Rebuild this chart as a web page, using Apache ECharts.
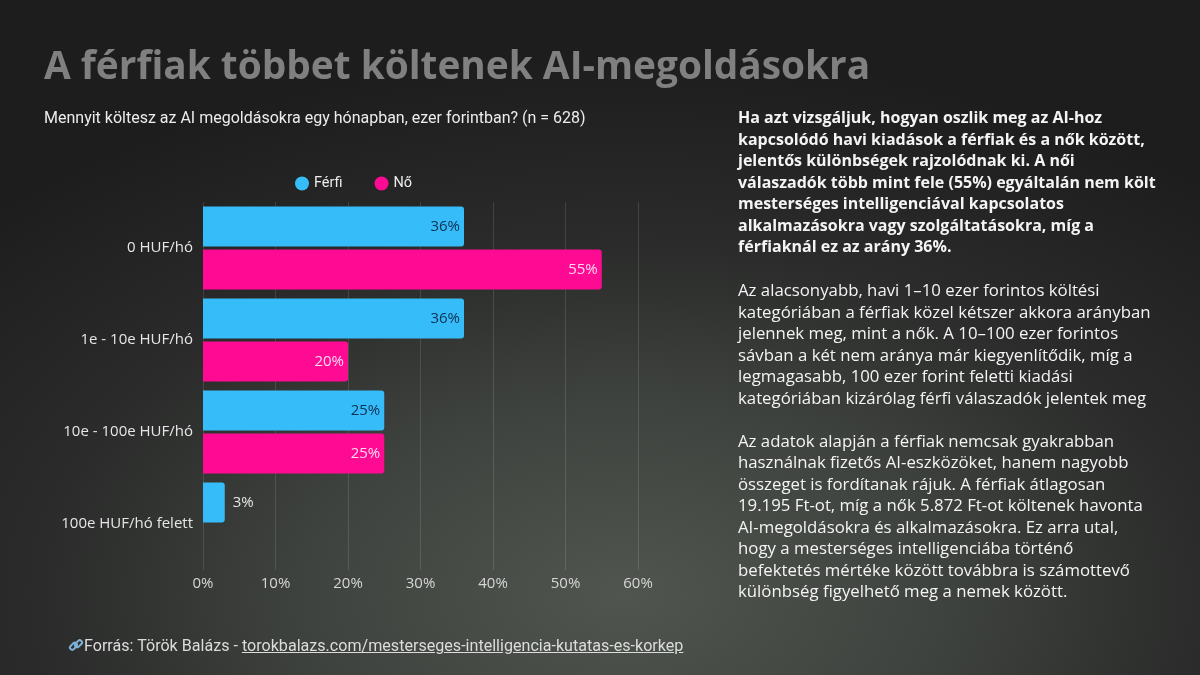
<!DOCTYPE html>
<html lang="hu">
<head>
<meta charset="utf-8">
<script src="https://cdn.jsdelivr.net/npm/echarts@6/dist/echarts.min.js"></script>
<style>
  html, body {
    margin: 0;
    padding: 0;
    width: 1200px;
    height: 675px;
    overflow: hidden;
  }
  body {
    position: relative;
    background: radial-gradient(ellipse 75% 80% at 52% 88%, #50554f 0%, #3f433f 35%, #2a2b2a 65%, #1d1d1d 100%);
    font-family: "Open Sans", sans-serif;
  }
  #chart {
    position: absolute;
    left: 0;
    top: 0;
    width: 1200px;
    height: 675px;
  }
  .title {
    position: absolute;
    left: 44px;
    top: 38px;
    font-family: "Open Sans", sans-serif;
    font-weight: 700;
    font-size: 38.8px;
    color: #808080;
    white-space: nowrap;
  }
  .subtitle {
    position: absolute;
    left: 44px;
    top: 108px;
    font-family: Roboto, sans-serif;
    font-size: 16px;
    color: #ececec;
    white-space: nowrap;
  }
  .notes {
    position: absolute;
    left: 738px;
    top: 107px;
    width: 460px;
    font-size: 16.8px;
    line-height: 21.5px;
    color: #f4f4f4;
    white-space: nowrap;
  }
  .notes p {
    margin: 0 0 21.5px 0;
  }
  .notes p.lead {
    font-weight: 700;
    font-size: 16px;
  }
  .source {
    position: absolute;
    left: 68px;
    top: 636px;
    font-family: Roboto, sans-serif;
    font-size: 16.1px;
    color: #dcdcdc;
    white-space: nowrap;
  }
  .source svg {
    vertical-align: -2px;
  }
  .source a {
    color: #dcdcdc;
    text-decoration: underline;
  }
</style>
</head>
<body>
<div id="chart"></div>
<div class="title">A férfiak többet költenek AI-megoldásokra</div>
<div class="subtitle">Mennyit költesz az AI megoldásokra egy hónapban, ezer forintban? (n = 628)</div>
<div class="notes">
  <p class="lead">Ha azt vizsgáljuk, hogyan oszlik meg az AI-hoz<br>kapcsolódó havi kiadások a férfiak és a nők között,<br>jelentős különbségek rajzolódnak ki. A női<br>válaszadók több mint fele (55%) egyáltalán nem költ<br>mesterséges intelligenciával kapcsolatos<br>alkalmazásokra vagy szolgáltatásokra, míg a<br>férfiaknál ez az arány 36%.</p>
  <p>Az alacsonyabb, havi 1–10 ezer forintos költési<br>kategóriában a férfiak közel kétszer akkora arányban<br>jelennek meg, mint a nők. A 10–100 ezer forintos<br>sávban a két nem aránya már kiegyenlítődik, míg a<br>legmagasabb, 100 ezer forint feletti kiadási<br>kategóriában kizárólag férfi válaszadók jelentek meg</p>
  <p>Az adatok alapján a férfiak nemcsak gyakrabban<br>használnak fizetős AI-eszközöket, hanem nagyobb<br>összeget is fordítanak rájuk. A férfiak átlagosan<br>19.195 Ft-ot, míg a nők 5.872 Ft-ot költenek havonta<br>AI-megoldásokra és alkalmazásokra. Ez arra utal,<br>hogy a mesterséges intelligenciába történő<br>befektetés mértéke között továbbra is számottevő<br>különbség figyelhető meg a nemek között.</p>
</div>
<div class="source"><svg width="16" height="16" viewBox="0 0 16 16"><g fill="none" stroke="#7fb2d6" stroke-width="2"><rect x="1.5" y="7" width="8" height="4.5" rx="2.2" transform="rotate(-45 5.5 9.25)"/><rect x="6.5" y="4.5" width="8" height="4.5" rx="2.2" transform="rotate(-45 10.5 6.75)"/></g></svg>Forrás: Török Balázs - <a>torokbalazs.com/mesterseges-intelligencia-kutatas-es-korkep</a></div>
<script>
  var categories = ["0 HUF/hó", "1e - 10e HUF/hó", "10e - 100e HUF/hó", "100e HUF/hó felett"];
  var ferfiValues = [36, 36, 25, 3];
  var noValues = [55, 20, 25, 0];
  var xTicks = [0, 10, 20, 30, 40, 50, 60];

  var blue = "#36bdf9";
  var pink = "#ff0a93";

  function percentLabel(params) {
    return params.value ? params.value + "%" : "";
  }

  function withLabels(values, insideColor) {
    return values.map(function (v) {
      if (v < 6) {
        return { value: v, label: { position: "right", color: "#e6e6e6", distance: 8 } };
      }
      return { value: v, label: { color: insideColor } };
    });
  }

  var chart = echarts.init(document.getElementById("chart"), null, { renderer: "canvas" });
  chart.setOption({
    backgroundColor: "transparent",
    animation: false,
    textStyle: { fontFamily: "Open Sans, sans-serif" },
    legend: {
      top: 171,
      left: 290,
      icon: "circle",
      itemWidth: 14,
      itemHeight: 14,
      itemGap: 32,
      textStyle: { color: "#ececec", fontSize: 14.5, fontFamily: "Roboto, sans-serif" },
      data: ["Férfi", "Nő"]
    },
    grid: {
      left: 203,
      right: 562,
      top: 202,
      bottom: 105,
      containLabel: false
    },
    xAxis: {
      type: "value",
      min: xTicks[0],
      max: xTicks[xTicks.length - 1],
      interval: 10,
      axisLine: { show: false },
      axisTick: { show: false },
      axisLabel: {
        color: "#d6d6d6",
        fontSize: 15,
        margin: 6,
        formatter: function (v) { return v + "%"; }
      },
      splitLine: { lineStyle: { color: "rgba(255,255,255,0.12)", width: 1 } }
    },
    yAxis: {
      type: "category",
      data: categories,
      inverse: true,
      axisLine: { show: false },
      axisTick: { show: false },
      axisLabel: { color: "#e6e6e6", fontSize: 15, margin: 10 }
    },
    series: [
      {
        name: "Férfi",
        type: "bar",
        data: withLabels(ferfiValues, "#0e2f52"),
        barWidth: 40,
        barGap: "8%",
        itemStyle: { color: blue, borderRadius: [0, 3, 3, 0] },
        label: { show: true, position: "insideRight", fontSize: 15, distance: 4, formatter: percentLabel }
      },
      {
        name: "Nő",
        type: "bar",
        data: withLabels(noValues, "#ffd9ef"),
        barWidth: 40,
        itemStyle: { color: pink, borderRadius: [0, 3, 3, 0] },
        label: { show: true, position: "insideRight", fontSize: 15, distance: 4, formatter: percentLabel }
      }
    ]
  });
</script>
</body>
</html>
